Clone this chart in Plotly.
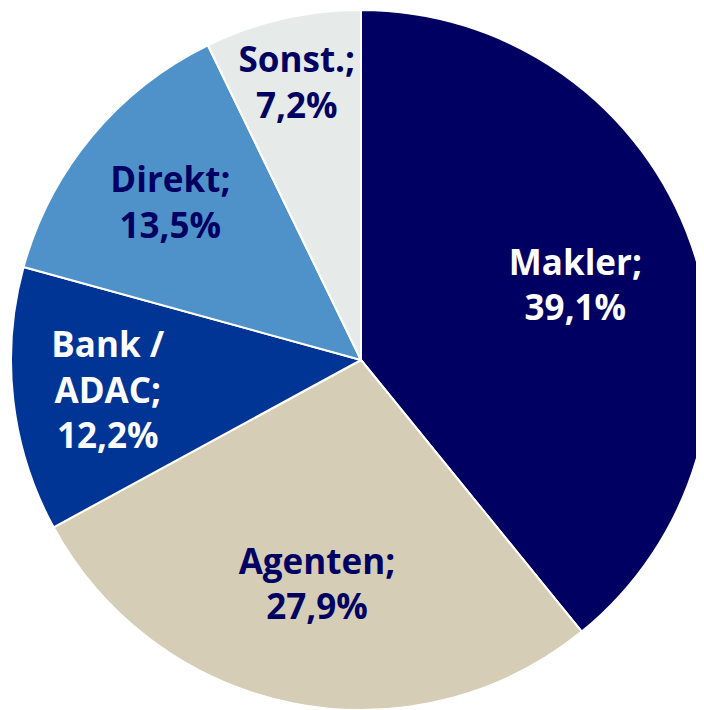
import plotly.graph_objects as go

labels = ["Makler", "Agenten", "Bank / ADAC", "Direkt", "Sonst."]
display = ["Makler;", "Agenten;", "Bank /<br>ADAC;", "Direkt;", "Sonst.;"]
values = [39.1, 27.9, 12.2, 13.5, 7.2]
pct_text = ["39,1%", "27,9%", "12,2%", "13,5%", "7,2%"]
colors = ["#000062", "#D5CDB6", "#003595", "#4F92C9", "#E6EAE9"]
text_colors = ["#FFFFFF", "#000062", "#FFFFFF", "#000062", "#000062"]

texts = [f"{d}<br>{p}" for d, p in zip(display, pct_text)]

# plot div sits at an 8px body offset in the page; domain chosen so the
# pie centre lands near (361, 360) of the window with radius ~350
W, H = 710, 710
dom = dict(x=[3 / W, 703 / W], y=[8 / H, 708 / H])

base = go.Pie(
    labels=labels,
    values=values,
    textinfo="none",
    sort=False,
    direction="clockwise",
    rotation=0,
    marker=dict(colors=colors, line=dict(color="#FFFFFF", width=2)),
    domain=dom,
    showlegend=False,
    hoverinfo="skip",
)

text_layer = go.Pie(
    labels=labels,
    values=values,
    text=texts,
    textinfo="text",
    textposition="inside",
    insidetextorientation="horizontal",
    sort=False,
    direction="clockwise",
    rotation=0,
    hole=0.3,
    marker=dict(colors=["rgba(0,0,0,0)"] * len(values), line=dict(width=0)),
    insidetextfont=dict(family="Open Sans", size=35, color=text_colors, weight="bold"),
    domain=dom,
    showlegend=False,
    hoverinfo="label+percent",
)

fig = go.Figure([base, text_layer])

fig.update_layout(
    width=W, height=H,
    margin=dict(l=0, r=0, t=0, b=0),
    paper_bgcolor="white",
    plot_bgcolor="white",
    uniformtext=dict(minsize=35, mode="show"),
)

fig.write_html("out.html")
